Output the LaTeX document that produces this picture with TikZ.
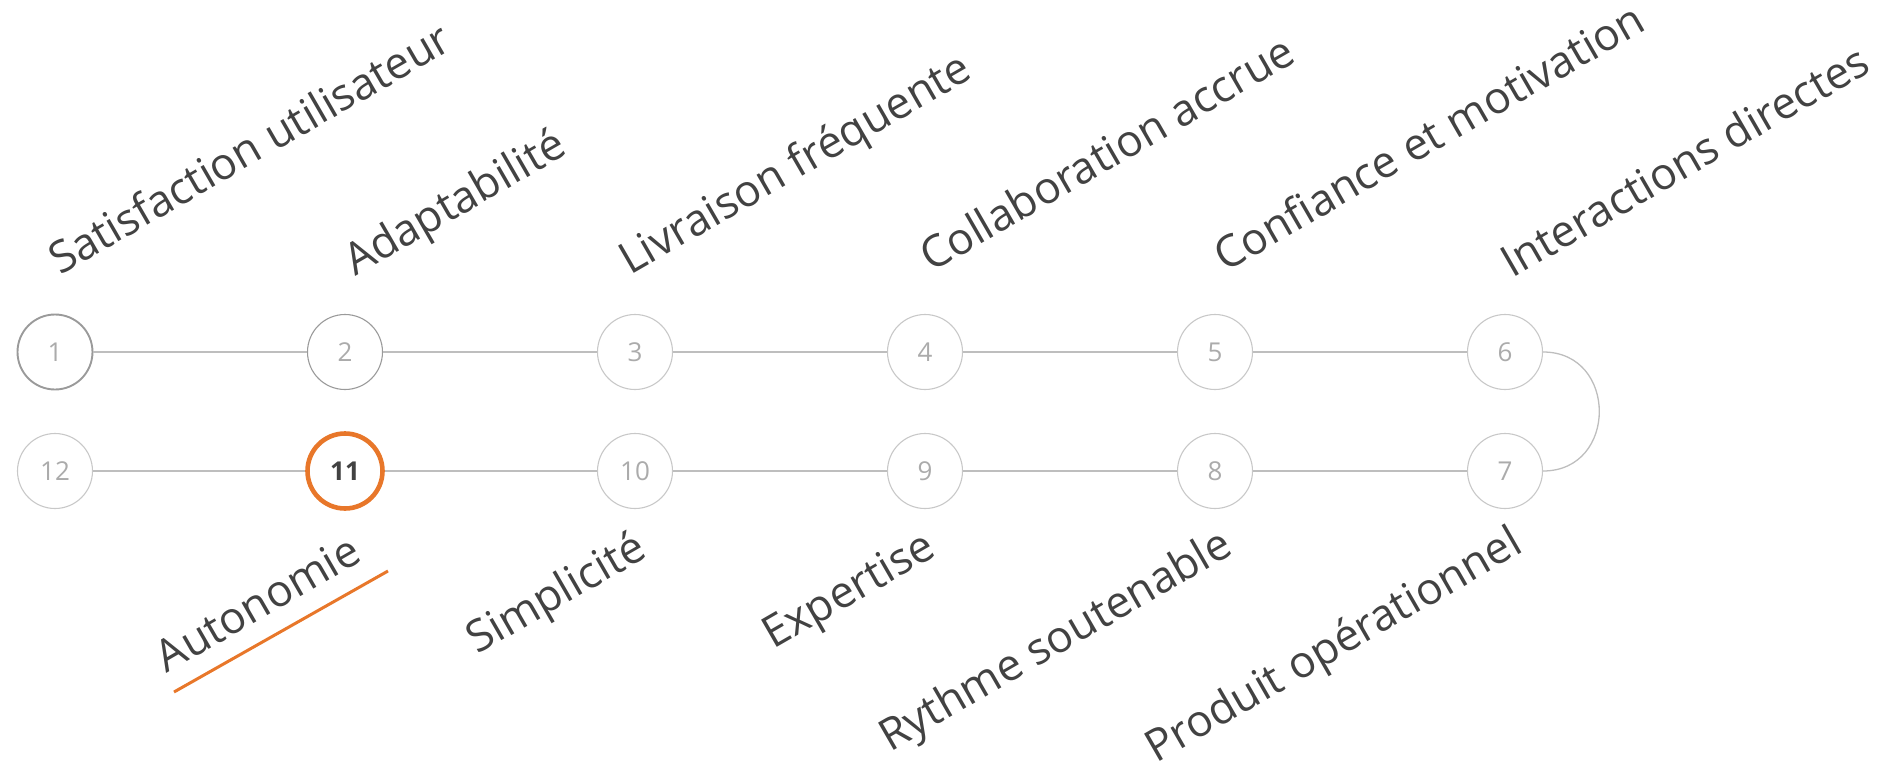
\documentclass[tikz,border=0pt]{standalone}
\usepackage{fontspec}
\setmainfont{Open Sans}
\definecolor{ringgray}{HTML}{C8C8C8}
\definecolor{ringdark}{HTML}{9A9A9A}
\definecolor{numgray}{HTML}{ABABAB}
\definecolor{linegray}{HTML}{BEBEBE}
\definecolor{labelgray}{HTML}{424242}
\definecolor{accent}{HTML}{E8772A}
\begin{document}
\begin{tikzpicture}[x=1pt,y=-1pt,
  stepnode/.style={circle, minimum size=75pt, inner sep=0pt, draw=ringgray,
    line width=1.1pt, text=numgray, font=\fontsize{26}{26}\selectfont},
  donenode/.style={stepnode, draw=ringdark},
  activenode/.style={stepnode, draw=accent, line width=4.6pt, text=labelgray,
    font=\fontsize{26}{26}\selectfont\bfseries},
  toplabel/.style={anchor=base west, rotate=30, inner sep=0pt, text=labelgray,
    font=\fontsize{44}{48}\selectfont},
  botlabel/.style={anchor=base east, rotate=30, inner sep=0pt, text=labelgray,
    font=\fontsize{44}{48}\selectfont},
  link/.style={draw=linegray, line width=1.3pt}]
\useasboundingbox (0,0) rectangle (1896,766);

% top row
\node[donenode, line width=1.9pt] (n1) at (55,352) {1};
\node[donenode] (n2) at (345,352) {2};
\node[stepnode] (n3) at (635,352) {3};
\node[stepnode] (n4) at (925,352) {4};
\node[stepnode] (n5) at (1215,352) {5};
\node[stepnode] (n6) at (1505,352) {6};
% bottom row
\node[stepnode] (n7) at (1505,471) {7};
\node[stepnode] (n8) at (1215,471) {8};
\node[stepnode] (n9) at (925,471) {9};
\node[stepnode] (n10) at (635,471) {10};
\node[activenode] (n11) at (345,471) {11};
\node[stepnode] (n12) at (55,471) {12};

% connectors
\draw[link] (n1) -- (n2);
\draw[link] (n2) -- (n3);
\draw[link] (n3) -- (n4);
\draw[link] (n4) -- (n5);
\draw[link] (n5) -- (n6);
\draw[link] (n6.east) .. controls +(75,0) and +(75,0) .. (n7.east);
\draw[link] (n7) -- (n8);
\draw[link] (n8) -- (n9);
\draw[link] (n9) -- (n10);
\draw[link] (n10) -- (n11);
\draw[link] (n11) -- (n12);

% labels above
\node[toplabel] (l1) at (60,276) {Satisfaction utilisateur};
\node[toplabel] (l2) at (355,277) {Adaptabilité};
\node[toplabel] (l3) at (630,276) {Livraison fréquente};
\node[toplabel] (l4) at (931,273) {Collaboration accrue};
\node[toplabel] (l5) at (1225,273) {Confiance et motivation};
\node[toplabel] (l6) at (1512,279) {Interactions directes};
% labels below
\node[botlabel] (l11) at (364,560) {Autonomie};
\node[botlabel] (l10) at (649,556) {Simplicité};
\node[botlabel] (l9) at (938,555) {Expertise};
\node[botlabel] (l8) at (1235,553) {Rythme soutenable};
\node[botlabel] (l7) at (1525,551) {Produit opérationnel};

% highlight under the active label
\coordinate (u1) at (174,692);
\coordinate (u2) at (388,571);
\draw[accent, line width=3pt] (u1) -- (u2);
\end{tikzpicture}
\end{document}
